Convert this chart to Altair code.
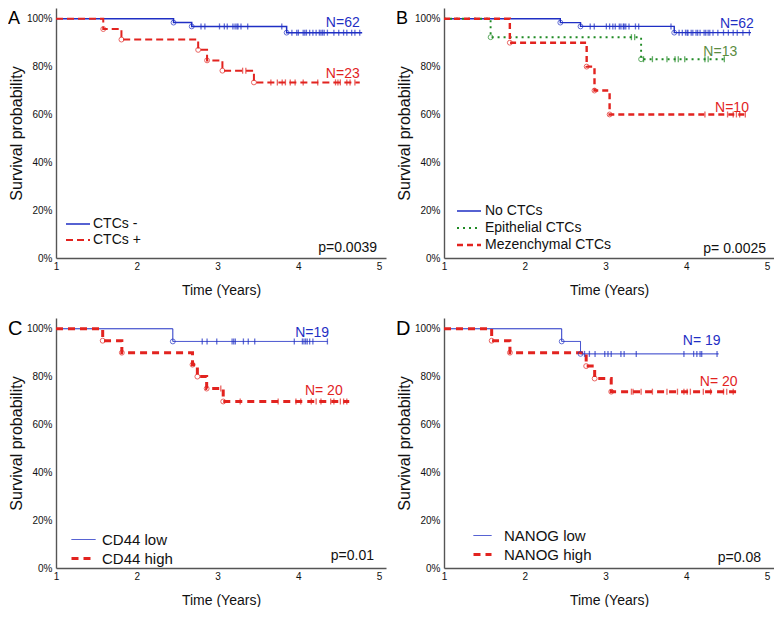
import altair as alt
import pandas as pd

FONT = "Liberation Sans"
BLUE = "#1f2fc4"
RED = "#e2231f"
GREEN = "#1f8a24"
GREEN_TXT = "#5b8c42"

W, H = 330, 250
XMAX, YMAX = 5.085, 1.045

# ---------------- Panel A ----------------
A_names = ["CTCs -", "CTCs +"]
A_blue_evt_t = [2.455, 2.68, 3.855]
A_blue_evt_s = [0.984, 0.968, 0.942]
A_blue_cens = [2.795, 2.843, 3.024, 3.084, 3.12, 3.19, 3.217, 3.24, 3.253, 3.29, 3.373, 3.795,
               3.92, 3.98, 4.0, 4.06, 4.08, 4.10, 4.14, 4.18, 4.22, 4.26, 4.28, 4.30, 4.32, 4.36,
               4.44, 4.50, 4.56, 4.60, 4.66, 4.70, 4.76]
A_blue_end = 4.79
A_red_evt_t = [1.585, 1.81, 2.76, 2.87, 3.06, 3.45]
A_red_evt_s = [0.957, 0.913, 0.870, 0.826, 0.783, 0.734]
A_red_cens = [3.31, 3.35, 3.66, 3.74, 3.80, 3.84, 3.90, 3.96, 4.06, 4.24, 4.46, 4.49, 4.52, 4.60, 4.64, 4.70]
A_red_end = 4.76
A_n_text = ["N=62", "N=23"]
A_n_t = [4.55, 4.55]
A_n_s = [0.983, 0.769]
A_p = "p=0.0039"

# ---------------- Panel B ----------------
B_names = ["No CTCs", "Epithelial CTCs", "Mezenchymal CTCs"]
B_blue_evt_t = [2.44, 2.69, 3.85]
B_blue_evt_s = [0.984, 0.968, 0.942]
B_blue_cens = [2.81, 2.86, 3.01, 3.05, 3.09, 3.12, 3.17, 3.19, 3.22, 3.23, 3.25, 3.29, 3.37, 3.41, 3.81,
               3.91, 3.95, 3.99, 4.01, 4.02, 4.06, 4.08, 4.12, 4.14, 4.17, 4.22, 4.24, 4.27, 4.29, 4.33,
               4.39, 4.46, 4.52, 4.58, 4.63, 4.70, 4.78]
B_blue_end = 4.80
B_green_evt_t = [1.577, 3.44]
B_green_evt_s = [0.923, 0.831]
B_green_cens = [3.32, 3.36, 3.47, 3.58, 3.76, 3.86, 3.90, 3.98, 4.23, 4.27, 4.47]
B_green_end = 4.49
B_red_evt_t = [1.815, 2.766, 2.863, 3.05]
B_red_evt_s = [0.90, 0.80, 0.70, 0.60]
B_red_cens = [4.23, 4.51, 4.58, 4.62, 4.66, 4.73]
B_red_end = 4.76
B_n_text = ["N=62", "N=13", "N=10"]
B_n_t = [4.625, 4.42, 4.565]
B_n_s = [0.98, 0.861, 0.629]
B_p = "p= 0.0025"

# ---------------- Panel C ----------------
C_names = ["CD44 low", "CD44 high"]
C_blue_evt_t = [2.446]
C_blue_evt_s = [0.947]
C_blue_cens = [2.81, 2.87, 2.99, 3.18, 3.20, 3.22, 3.32, 3.38, 3.46, 3.95, 4.05, 4.07, 4.09, 4.11,
               4.14, 4.18, 4.36]
C_blue_end = 4.36
C_red_evt_t = [1.578, 1.815, 2.69, 2.75, 2.865, 3.07]
C_red_evt_s = [0.95, 0.90, 0.85, 0.80, 0.75, 0.696]
C_red_cens = [3.04, 3.28, 3.75, 3.97, 4.03, 4.16, 4.22, 4.28, 4.40, 4.44, 4.52, 4.56, 4.60]
C_red_end = 4.63
C_n_text = ["N=19", "N= 20"]
C_n_t = [4.17, 4.315]
C_n_s = [0.984, 0.738]
C_p = "p=0.01"

# ---------------- Panel D ----------------
D_names = ["NANOG low", "NANOG high"]
D_blue_evt_t = [2.457, 2.69]
D_blue_evt_s = [0.947, 0.895]
D_blue_cens = [2.74, 2.80, 2.87, 2.99, 3.03, 3.07, 3.19, 3.23, 3.38, 3.97, 4.09, 4.13, 4.17, 4.19, 4.38]
D_blue_end = 4.40
D_red_evt_t = [1.59, 1.816, 2.76, 2.865, 3.07]
D_red_evt_s = [0.95, 0.90, 0.844, 0.792, 0.737]
D_red_cens = [3.32, 3.34, 3.44, 3.58, 3.76, 3.89, 3.97, 4.01, 4.05, 4.21, 4.30, 4.46, 4.50, 4.58]
D_red_end = 4.63
D_n_text = ["N= 19", "N= 20"]
D_n_t = [4.19, 4.40]
D_n_s = [0.950, 0.777]
D_p = "p=0.08"


def km_frames(series):
    curve, events, cens = [], [], []
    for name, ev_t, ev_s, c_t, end in series:
        pts = [(1.0, 1.0)] + list(zip(ev_t, ev_s)) + [(end, ev_s[-1])]
        for i, (t, s) in enumerate(pts):
            curve.append({"series": name, "t": t, "s": s, "o": i})
        for t, s in zip(ev_t, ev_s):
            events.append({"series": name, "t": t, "s": s})
        for t in c_t:
            lvl = 1.0
            for et, es in zip(ev_t, ev_s):
                if et <= t:
                    lvl = es
            cens.append({"series": name, "t": t, "s": lvl})
    return pd.DataFrame(curve), pd.DataFrame(events), pd.DataFrame(cens)


def panel(letter, series, names, colors, dashes, widths, n_text, n_t, n_s, n_col,
          p_text, p_x, p_y, leg_x, leg_y, leg_font, leg_row, leg_off, sym_half,
          letter_y, letter_base, letter_size):
    curve, events, cens = km_frames(series)
    xs = alt.Scale(domain=[1, XMAX], nice=False, zero=False)
    ys = alt.Scale(domain=[0, YMAX], nice=False, zero=True)
    x = alt.X("t:Q", scale=xs, axis=alt.Axis(values=[1, 2, 3, 4, 5], format="d",
                                             title="Time (Years)", labelFlush=False))
    y = alt.Y("s:Q", scale=ys, axis=alt.Axis(values=[0, 0.2, 0.4, 0.6, 0.8, 1.0], format=".0%",
                                             title="Survival probability"))
    cscale = alt.Scale(domain=names, range=colors)
    leg = alt.Legend(title=None, orient="none", legendX=leg_x, legendY=leg_y,
                     symbolType=f"M-{sym_half},0H{sym_half}", symbolSize=36,
                     labelFontSize=leg_font, labelOffset=leg_off, rowPadding=leg_row,
                     labelColor="#111", labelLimit=300)
    lines = alt.Chart(curve).mark_line(interpolate="step-after").encode(
        x=x, y=y,
        color=alt.Color("series:N", scale=cscale, legend=leg, sort=names),
        strokeDash=alt.StrokeDash("series:N", scale=alt.Scale(domain=names, range=dashes),
                                  legend=leg, sort=names),
        strokeWidth=alt.StrokeWidth("series:N", scale=alt.Scale(domain=names, range=widths),
                                    legend=leg, sort=names),
        order="o:Q",
    )
    circ = alt.Chart(events).mark_point(shape="circle", filled=False, size=24, strokeWidth=1).encode(
        x=x, y=y, color=alt.Color("series:N", scale=cscale, legend=None))
    ticks = alt.Chart(cens).mark_point(shape="M0,-1L0,1", filled=False, size=36, strokeWidth=1.3).encode(
        x=x, y=y, color=alt.Color("series:N", scale=cscale, legend=None))
    ndf = pd.DataFrame({"label": n_text, "t": n_t, "s": n_s, "col": n_col})
    ntext = alt.Chart(ndf).mark_text(fontSize=14, align="center", baseline="middle").encode(
        x=x, y=y, text="label:N", color=alt.Color("col:N", scale=None))
    ptext = alt.Chart(pd.DataFrame({"p": [p_text]})).mark_text(
        fontSize=14, align="right", baseline="middle", color="#111").encode(
        x=alt.value(p_x), y=alt.value(p_y), text="p:N")
    ltext = alt.Chart(pd.DataFrame({"l": [letter]})).mark_text(
        fontSize=letter_size, align="left", baseline=letter_base, color="#000").encode(
        x=alt.value(-48), y=alt.value(letter_y), text="l:N")
    return alt.layer(lines, circ, ticks, ntext, ptext, ltext).properties(width=W, height=H)


pA = panel("A",
           [(A_names[0], A_blue_evt_t, A_blue_evt_s, A_blue_cens, A_blue_end),
            (A_names[1], A_red_evt_t, A_red_evt_s, A_red_cens, A_red_end)],
           A_names, [BLUE, RED], [[1, 0], [7, 4]], [1.5, 2.0],
           A_n_text, A_n_t, A_n_s, [BLUE, RED], A_p, W - 9, H - 10,
           15, 209, 14, 2, 8, 4, 2, "top", 18)
pB = panel("B",
           [(B_names[0], B_blue_evt_t, B_blue_evt_s, B_blue_cens, B_blue_end),
            (B_names[1], B_green_evt_t, B_green_evt_s, B_green_cens, B_green_end),
            (B_names[2], B_red_evt_t, B_red_evt_s, B_red_cens, B_red_end)],
           B_names, [BLUE, GREEN, RED], [[1, 0], [2, 4], [6, 4]], [1.4, 2.4, 2.0],
           B_n_text, B_n_t, B_n_s, [BLUE, GREEN_TXT, RED], B_p, W - 8, H - 9,
           18, 196, 14, 3, 9, 4, 2, "top", 18)
pC = panel("C",
           [(C_names[0], C_blue_evt_t, C_blue_evt_s, C_blue_cens, C_blue_end),
            (C_names[1], C_red_evt_t, C_red_evt_s, C_red_cens, C_red_end)],
           C_names, [BLUE, RED], [[1, 0], [7, 5]], [1.0, 3.0],
           C_n_text, C_n_t, C_n_s, [BLUE, RED], C_p, W - 12, H - 12,
           20, 214, 15, 3, 11, 4, 11, "middle", 20)
pD = panel("D",
           [(D_names[0], D_blue_evt_t, D_blue_evt_s, D_blue_cens, D_blue_end),
            (D_names[1], D_red_evt_t, D_red_evt_s, D_red_cens, D_red_end)],
           D_names, [BLUE, RED], [[1, 0], [7, 5]], [1.0, 3.0],
           D_n_text, D_n_t, D_n_s, [BLUE, RED], D_p, W - 13, H - 10,
           31, 210, 15, 3, 14, 3, 11, "middle", 20)

res = dict(color="independent", strokeDash="independent", strokeWidth="independent")
row1 = alt.hconcat(pA, pB, spacing=10).resolve_scale(**res).resolve_legend(**res)
row2 = alt.hconcat(pC, pD, spacing=10).resolve_scale(**res).resolve_legend(**res)

chart = alt.vconcat(row1, row2, spacing=21).resolve_scale(**res).resolve_legend(**res).properties(
    padding=0).configure(font=FONT).configure_axis(
    grid=False, domainColor="#555", domainWidth=1.4, ticks=False, tickSize=0,
    labelFontSize=10, labelColor="#111", titleFontSize=14, titleFontWeight="normal",
    titleColor="#111", labelPadding=3,
).configure_axisY(titleFontSize=16, titlePadding=2, labelPadding=4).configure_axisX(
    titlePadding=12).configure_view(stroke=None)

chart.save("out.html", embed_options={"renderer": "svg", "actions": False})
